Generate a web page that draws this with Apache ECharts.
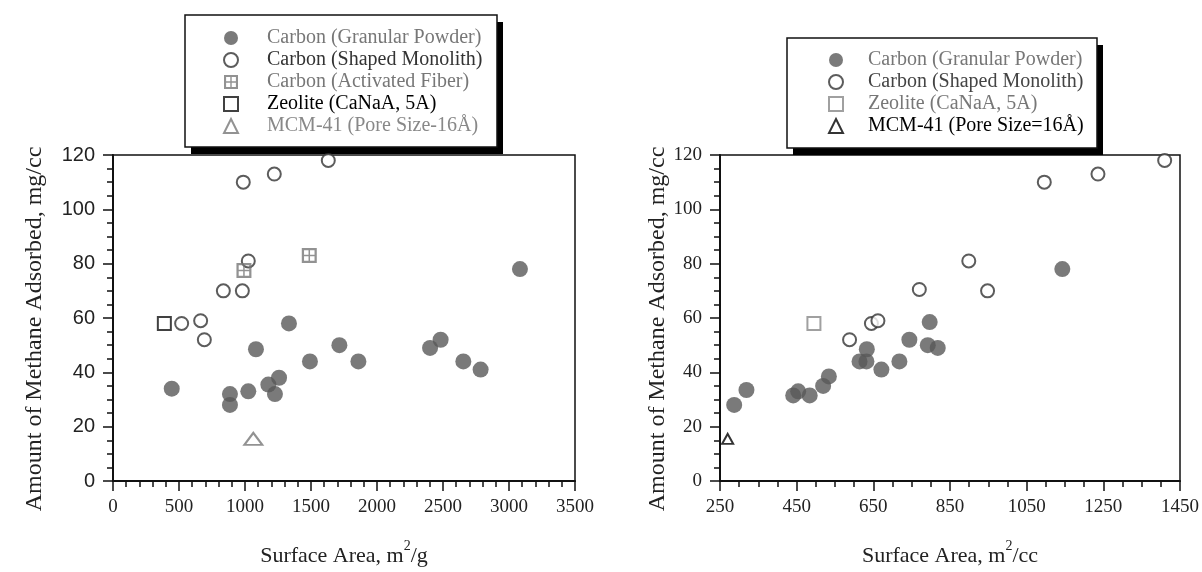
<!DOCTYPE html>
<html>
<head>
<meta charset="utf-8">
<script src="https://cdn.jsdelivr.net/npm/echarts@6.0.0/dist/echarts.min.js"></script>
<style>
html,body{margin:0;padding:0;background:#fff;}
#chart{width:1202px;height:572px;}
</style>
</head>
<body>
<div id="chart"></div>
<script>
// ---------- data ----------
const leftNames = ['Carbon (Granular Powder)', 'Carbon (Shaped Monolith)', 'Carbon (Activated Fiber)', 'Zeolite (CaNaA, 5A)', 'MCM-41 (Pore Size-16\u00c5)'];
const rightNames = ['Carbon (Granular Powder)', 'Carbon (Shaped Monolith)', 'Zeolite (CaNaA, 5A)', 'MCM-41 (Pore Size=16\u00c5)'];

// left: Surface Area m2/g vs mg/cc
const leftGranular = [[445,34],[886,32],[886,28],[1025,33],[1083,48.5],[1177,35.5],[1258,38],[1227,32],[1333,58],[1492,44],[1715,50],[1859,44],[2402,49],[2482,52],[2654,44],[2785,41],[3083,78]];
const leftMonolith = [[987,110],[1222,113],[1631,118],[1025,81],[836,70],[980,70],[520,58],[664,59],[692,52]];
const leftFiber = [[992,77.5],[1487,83]];
const leftZeolite = [[389,58]];
const leftMCM = [[1063,15.5]];

// right: Surface Area m2/cc vs mg/cc
const rightGranular = [[287,28],[319,33.5],[441,31.5],[454,33],[484,31.5],[519,35],[534,38.5],[614,44],[632,44],[633,48.5],[671,41],[718,44],[744,52],[792,50],[797,58.5],[818,49],[1143,78]];
const rightMonolith = [[588,52],[645,58],[662,59],[770,70.5],[899,81],[948,70],[1096,110],[1236,113],[1410,118]];
const rightZeolite = [[495,58]];
const rightMCM = [[270,15.5]];

// axis ranges
const leftX = {min: 0, max: 3500, interval: 500};
const rightX = {min: 250, max: 1450, interval: 200};
const yRange = {min: 0, max: 120, interval: 20};

// ---------- styling ----------
const SERIF = 'Liberation Serif, Times New Roman, serif';
const SANS = 'Liberation Sans, Arial, sans-serif';
const FIBER = 'path://M0,0H10V10H0Z M1.5,1.5V4.5H4.5V1.5Z M5.5,1.5V4.5H8.5V1.5Z M1.5,5.5V8.5H4.5V5.5Z M5.5,5.5V8.5H8.5V5.5Z';
const R = 'R:';
const plain = v => String(v);

function xAxis(gi, rng, unit, labelFont) {
  return {
    type: 'value', gridIndex: gi, min: rng.min, max: rng.max, interval: rng.interval,
    name: '{a|Surface Area, m}{s|2}{a|/' + unit + '}',
    nameLocation: 'middle', nameGap: 58,
    nameTextStyle: {
      rich: {
        a: {fontFamily: SERIF, fontSize: 22, color: '#222', verticalAlign: 'bottom', lineHeight: 28},
        s: {fontFamily: SERIF, fontSize: 14, color: '#222', verticalAlign: 'top', lineHeight: 28}
      }
    },
    axisLine: {show: true, onZero: false, lineStyle: {color: '#111', width: 2}},
    axisTick: {show: true, length: 10, lineStyle: {color: '#111', width: 1.5}},
    minorTick: {show: true, splitNumber: rng === leftX ? 5 : 4, length: 6, lineStyle: {color: '#111', width: 1.5}},
    splitLine: {show: false}, minorSplitLine: {show: false},
    axisLabel: {fontFamily: labelFont, fontSize: 19, color: '#222', margin: 17, formatter: plain, showMaxLabel: true, showMinLabel: true}
  };
}
function yAxis(gi, labelFont, labelSize, gap) {
  return {
    type: 'value', gridIndex: gi, min: yRange.min, max: yRange.max, interval: yRange.interval,
    name: 'Amount of Methane Adsorbed, mg/cc',
    nameLocation: 'middle', nameGap: gap,
    nameTextStyle: {fontFamily: SERIF, fontSize: 24, color: '#222', padding: [0, 22, 0, 0]},
    axisLine: {show: true, onZero: false, lineStyle: {color: '#111', width: 2}},
    axisTick: {show: true, length: 10, lineStyle: {color: '#111', width: 1.5}},
    minorTick: {show: true, splitNumber: 4, length: 6, lineStyle: {color: '#111', width: 1.5}},
    splitLine: {show: false}, minorSplitLine: {show: false},
    axisLabel: {fontFamily: labelFont, fontSize: labelSize, color: '#222', margin: 18, formatter: plain}
  };
}

const filled = {color: '#595959'};
function hollow(c, w) { return {color: '#fff', borderColor: c, borderWidth: w}; }

const series = [
  {name: leftNames[0], type: 'scatter', xAxisIndex: 0, yAxisIndex: 0, data: leftGranular, symbol: 'circle', symbolSize: 16, itemStyle: filled},
  {name: leftNames[1], type: 'scatter', xAxisIndex: 0, yAxisIndex: 0, data: leftMonolith, symbol: 'circle', symbolSize: 13, itemStyle: hollow('#333', 2)},
  {name: leftNames[2], type: 'scatter', xAxisIndex: 0, yAxisIndex: 0, data: leftFiber, symbol: FIBER, symbolSize: 15, itemStyle: {color: '#777'}},
  {name: leftNames[3], type: 'scatter', xAxisIndex: 0, yAxisIndex: 0, data: leftZeolite, symbol: 'rect', symbolSize: 13, itemStyle: hollow('#111', 2)},
  {name: leftNames[4], type: 'scatter', xAxisIndex: 0, yAxisIndex: 0, data: leftMCM, symbol: 'triangle', symbolSize: [18, 12], itemStyle: hollow('#777', 2)},
  {name: R + rightNames[0], type: 'scatter', xAxisIndex: 1, yAxisIndex: 1, data: rightGranular, symbol: 'circle', symbolSize: 16, itemStyle: filled},
  {name: R + rightNames[1], type: 'scatter', xAxisIndex: 1, yAxisIndex: 1, data: rightMonolith, symbol: 'circle', symbolSize: 13, itemStyle: hollow('#333', 2)},
  {name: R + rightNames[2], type: 'scatter', xAxisIndex: 1, yAxisIndex: 1, data: rightZeolite, symbol: 'rect', symbolSize: 13, itemStyle: hollow('#888', 2)},
  {name: R + rightNames[3], type: 'scatter', xAxisIndex: 1, yAxisIndex: 1, data: rightMCM, symbol: 'triangle', symbolSize: [11, 10], itemStyle: hollow('#000', 2)}
];

const leftColors = ['#777', '#333', '#777', '#000', '#888'];
const rightColors = ['#777', '#444', '#777', '#000'];

function legend(names, colors, prefix, pos, pad, textPad) {
  return {
    orient: 'vertical', left: pos[0], top: pos[1], z: 10,
    data: names.map((n, i) => ({name: prefix + n, textStyle: {color: colors[i]}})),
    formatter: n => n.replace(/^R:/, ''),
    itemWidth: 14, itemHeight: 14, itemGap: 0,
    padding: pad,
    textStyle: {fontFamily: SERIF, fontSize: 20, lineHeight: 22, padding: [0, 0, 0, textPad]},
    selectedMode: false
  };
}

// framed legend boxes with a hard drop shadow
function box(x, y, w, h) {
  return [
    {type: 'rect', z: 1, shape: {x: x + 6, y: y + 7, width: w, height: h}, style: {fill: '#000'}},
    {type: 'rect', z: 2, shape: {x: x, y: y, width: w, height: h}, style: {fill: '#fff', stroke: '#111', lineWidth: 1.5}}
  ];
}

const option = {
  animation: false,
  backgroundColor: '#fff',
  grid: [
    {left: 113, top: 155, width: 462, height: 333, show: true, borderColor: '#111', borderWidth: 1.5},
    {left: 720, top: 155, width: 461, height: 332, show: true, borderColor: '#111', borderWidth: 1.5}
  ],
  graphic: {elements: box(185, 15, 312, 132).concat(box(787, 38, 310, 110))},
  xAxis: [xAxis(0, leftX, 'g', SERIF), xAxis(1, rightX, 'cc', SERIF)],
  yAxis: [yAxis(0, SANS, 20, 66), yAxis(1, SERIF, 19, 48)],
  legend: [
    legend(leftNames, leftColors, '', [185, 15], [12, 16, 10, 38], 24),
    legend(rightNames, rightColors, R, [787, 38], [11, 15, 11, 41], 20)
  ],
  series: series
};

const chart = echarts.init(document.getElementById('chart'), null, {renderer: 'canvas'});
chart.setOption(option);
</script>
</body>
</html>
